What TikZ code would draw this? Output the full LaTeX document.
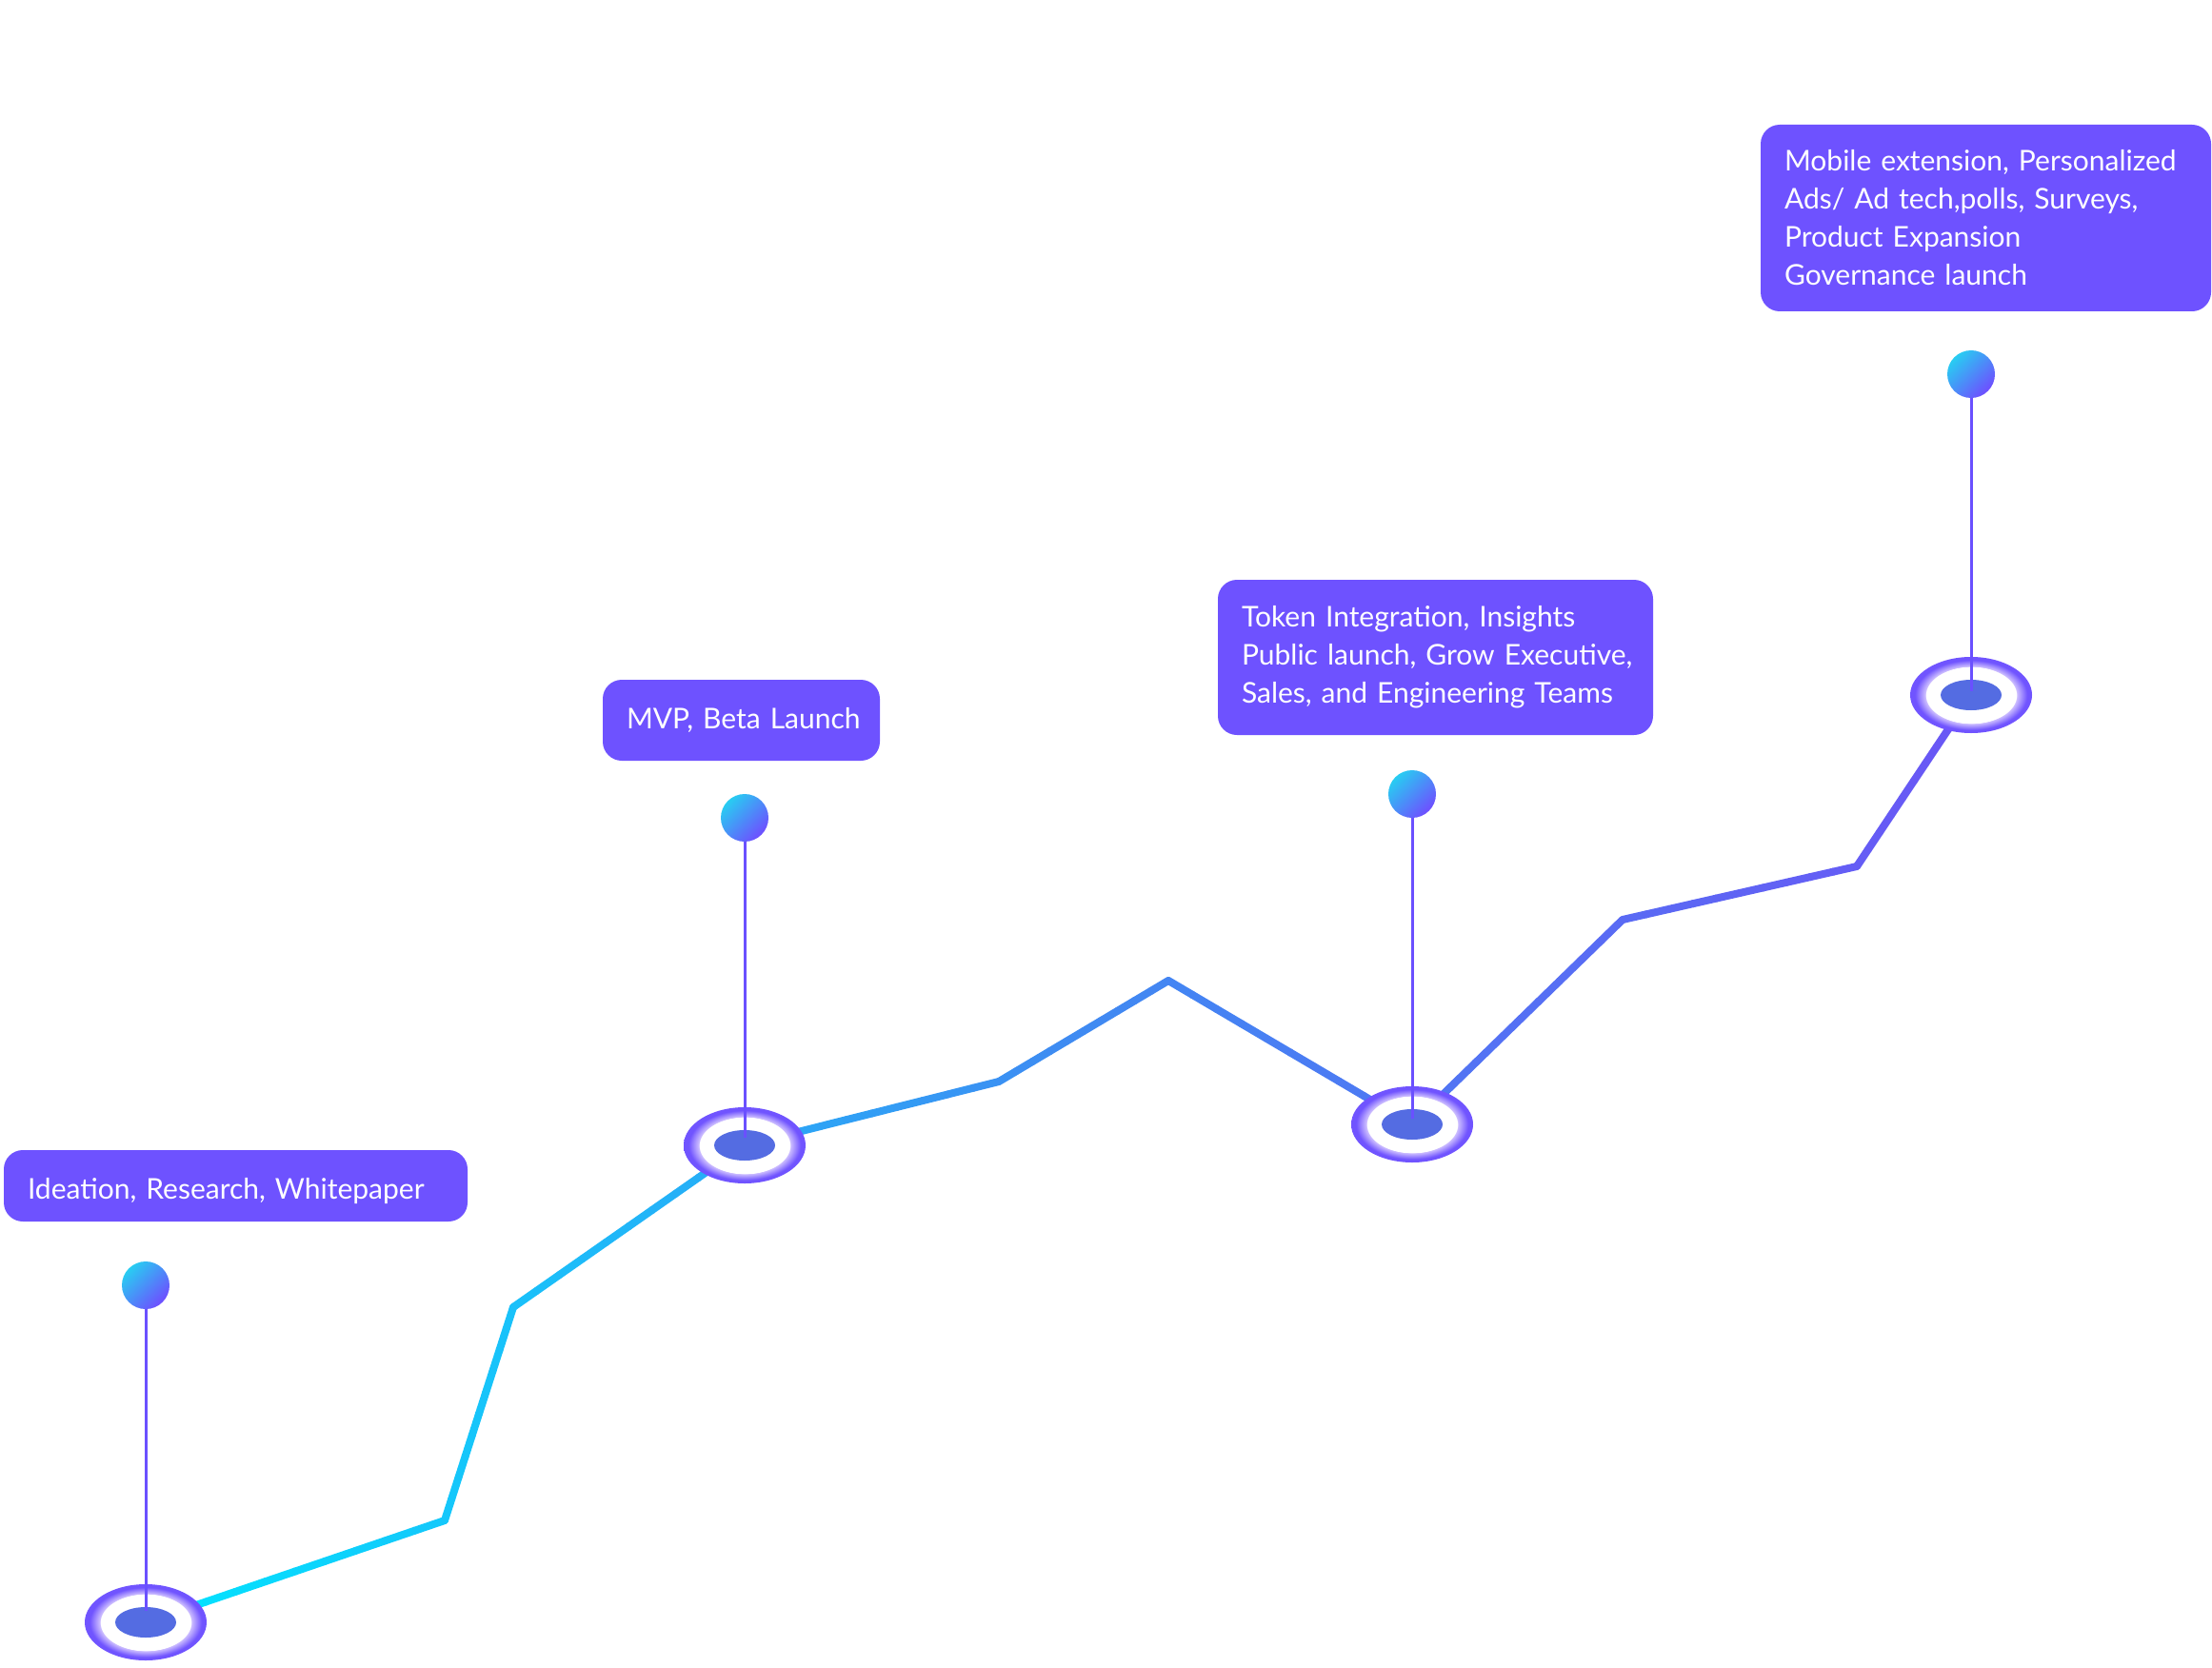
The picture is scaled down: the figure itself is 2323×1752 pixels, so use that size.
\documentclass[tikz,border=0pt]{standalone}
\usepackage{fontspec}
\setmainfont{Lato}
\usetikzlibrary{shapes.geometric,calc}
\definecolor{boxc}{RGB}{110,82,255}
\definecolor{stemc}{RGB}{106,80,255}
\definecolor{ringpurple}{RGB}{112,84,255}
\definecolor{ringlight}{RGB}{205,190,255}
\definecolor{dotc}{RGB}{84,108,226}
\definecolor{ballA}{RGB}{40,205,242}
\definecolor{ballB}{RGB}{110,78,255}
\definecolor{gA}{RGB}{0,229,255}
\definecolor{gB}{RGB}{62,140,242}
\definecolor{gC}{RGB}{106,86,245}
\pgfdeclareradialshading{ringshade}{\pgfpoint{0bp}{0bp}}{color(0bp)=(white); color(18.5bp)=(white); color(18.8bp)=(ringlight); color(23bp)=(ringpurple); color(50bp)=(ringpurple)}
\tikzset{
  box/.style={fill=boxc, rounded corners=20pt, text=white, inner xsep=25pt, inner ysep=0pt, align=left, font=\fontsize{30}{40}\selectfont},
  ball/.style={circle, minimum size=50pt, inner sep=0pt, left color=ballA, right color=ballB, shading angle=45},
  ringouter/.style={ellipse, minimum width=128pt, minimum height=80pt, inner sep=0pt, shade, shading=ringshade},
  ringinner/.style={ellipse, minimum width=64pt, minimum height=32pt, inner sep=0pt, fill=dotc},
  stem/.style={draw=stemc, line width=3pt},
}
\begin{document}
\begin{tikzpicture}[x=1pt,y=-1pt]
\useasboundingbox (0,0) rectangle (2323,1752);
% path points
\coordinate (p0) at (153,1704);
\coordinate (p1) at (467,1597);
\coordinate (p2) at (539,1373);
\coordinate (p3) at (782,1203);
\coordinate (p4) at (1049,1136);
\coordinate (p5) at (1227,1030);
\coordinate (p6) at (1483,1181);
\coordinate (p7) at (1704,966);
\coordinate (p8) at (1950,910);
\coordinate (p9) at (2070,730);
% gradient polyline
\foreach \a/\b/\ta/\tb in {p0/p1/0/0.164, p1/p2/0.164/0.201, p2/p3/0.201/0.328, p3/p4/0.328/0.467, p4/p5/0.467/0.560, p5/p6/0.560/0.694, p6/p7/0.694/0.809, p7/p8/0.809/0.937, p8/p9/0.937/1}{
  \foreach \i in {0,...,9}{
    \pgfmathsetmacro\t{\ta+(\tb-\ta)*(\i+0.5)/10}
    \pgfmathsetmacro\s{\i/10}
    \pgfmathsetmacro\e{(\i+1)/10}
    \ifdim\t pt<0.5pt
      \pgfmathsetmacro\m{200*\t}
      \colorlet{segc}{gB!\m!gA}
    \else
      \pgfmathsetmacro\m{200*(\t-0.5)}
      \colorlet{segc}{gC!\m!gB}
    \fi
    \draw[segc, line width=8pt, line cap=round] ($(\a)!\s!(\b)$) -- ($(\a)!\e!(\b)$);
  }
}
% rings
\node[ringouter] (r1) at (p0) {};
\node[ringouter] (r2) at (p3) {};
\node[ringouter] (r3) at (p6) {};
\node[ringouter] (r4) at (p9) {};
\node[ringinner] (d1) at (p0) {};
\node[ringinner] (d2) at (p3) {};
\node[ringinner] (d3) at (p6) {};
\node[ringinner] (d4) at (p9) {};
% balls
\node[ball] (b1) at (153,1350) {};
\node[ball] (b2) at (782,859) {};
\node[ball] (b3) at (1483,834) {};
\node[ball] (b4) at (2070,393) {};
% stems
\draw[stem] (b1.south) -- ($(d1.center)+(0,-12)$);
\draw[stem] (b2.south) -- ($(d2.center)+(0,-8)$);
\draw[stem] (b3.south) -- ($(d3.center)+(0,-6)$);
\draw[stem] (b4.south) -- ($(d4.center)+(0,-4)$);
% boxes
\node[box, minimum width=487pt, minimum height=75pt, text width=437pt] (t1) at (247.5,1245.5) {\raisebox{-6pt}[\height][\depth]{Ideation, Research, Whitepaper}};
\node[box, minimum width=291pt, minimum height=85pt, text width=241pt] (t2) at (778.5,756.5) {\mbox{MVP, Beta Launch}};
\node[box, minimum width=457pt, minimum height=163pt, text width=407pt] (t3) at (1507.5,690.5) {\mbox{Token Integration, Insights}\\\mbox{Public launch, Grow Executive,}\\\mbox{Sales, and Engineering Teams}};
\node[box, minimum width=473pt, minimum height=196pt, text width=423pt] (t4) at (2085.5,229) {\mbox{Mobile extension, Personalized}\\\mbox{Ads/ Ad tech,polls, Surveys,}\\\mbox{Product Expansion}\\\mbox{Governance launch}};
\end{tikzpicture}
\end{document}
